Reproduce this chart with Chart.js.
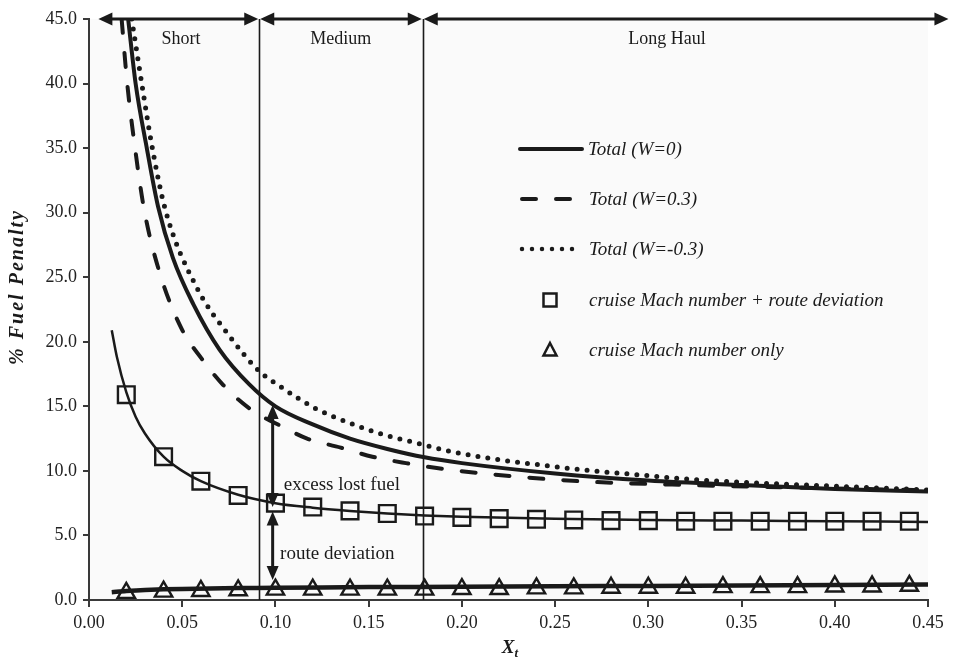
<!DOCTYPE html>
<html>
<head>
<meta charset="utf-8">
<script src="https://cdn.jsdelivr.net/npm/chart.js@4.4.0/dist/chart.umd.min.js"></script>
<style>
  html, body { margin: 0; padding: 0; background: #fff; }
  #wrap { width: 955px; height: 663px; }
</style>
</head>
<body>
<div id="wrap"><canvas id="chart" width="955" height="663"></canvas></div>
<script>
(function () {
  "use strict";

  /* ---------- data ---------- */
  const totalW0X   = [0.021, 0.025, 0.031, 0.037, 0.045, 0.056, 0.070, 0.086, 0.100, 0.120, 0.140, 0.160, 0.180, 0.200, 0.250, 0.300, 0.350, 0.400, 0.450];
  const totalW0Y   = [45.0, 40.0, 35.0, 30.5, 26.5, 22.9, 19.4, 16.7, 15.0, 13.6, 12.5, 11.7, 11.05, 10.6, 9.8, 9.25, 8.9, 8.6, 8.4];

  const totalW03X  = [0.0175, 0.0205, 0.0247, 0.0295, 0.038, 0.0497, 0.0604, 0.072, 0.0864, 0.104, 0.117, 0.135, 0.152, 0.170, 0.190, 0.226, 0.263, 0.322, 0.380, 0.450];
  const totalW03Y  = [45.0, 40.0, 35.0, 30.3, 25.3, 21.0, 18.7, 16.65, 14.8, 13.4, 12.5, 11.8, 11.1, 10.6, 10.15, 9.6, 9.2, 8.9, 8.7, 8.5];

  const totalWm3X  = [0.0229, 0.0283, 0.0336, 0.041, 0.0578, 0.0756, 0.0908, 0.104, 0.122, 0.140, 0.158, 0.176, 0.194, 0.215, 0.242, 0.269, 0.296, 0.322, 0.362, 0.406, 0.450];
  const totalWm3Y  = [45.0, 40.0, 35.3, 30.2, 24.2, 20.4, 17.8, 16.4, 14.8, 13.7, 12.8, 12.15, 11.5, 10.97, 10.46, 10.02, 9.68, 9.35, 9.04, 8.78, 8.52];

  const routeFitX  = [0.0122, 0.015, 0.020, 0.025, 0.030, 0.040, 0.050, 0.060, 0.080, 0.100, 0.120, 0.140, 0.160, 0.180, 0.200, 0.250, 0.300, 0.350, 0.400, 0.450];
  const routeFitY  = [20.9, 18.8, 16.1, 14.2, 12.9, 11.1, 10.0, 9.2, 8.15, 7.5, 7.15, 6.9, 6.7, 6.55, 6.45, 6.3, 6.2, 6.15, 6.1, 6.05];

  const markerX    = [0.02, 0.04, 0.06, 0.08, 0.10, 0.12, 0.14, 0.16, 0.18, 0.20, 0.22, 0.24, 0.26, 0.28, 0.30, 0.32, 0.34, 0.36, 0.38, 0.40, 0.42, 0.44];
  const routeDevY  = [15.9, 11.1, 9.2, 8.1, 7.5, 7.2, 6.9, 6.7, 6.5, 6.4, 6.3, 6.25, 6.2, 6.15, 6.15, 6.1, 6.1, 6.1, 6.1, 6.1, 6.1, 6.1];
  const machOnlyY  = [0.55, 0.65, 0.7, 0.75, 0.8, 0.8, 0.8, 0.8, 0.8, 0.85, 0.85, 0.9, 0.9, 0.95, 0.95, 0.95, 1.0, 1.0, 1.0, 1.05, 1.05, 1.1];

  const machFitX   = [0.0122, 0.020, 0.030, 0.050, 0.080, 0.100, 0.150, 0.200, 0.250, 0.300, 0.350, 0.400, 0.450];
  const machFitY   = [0.6, 0.7, 0.78, 0.86, 0.92, 0.95, 1.0, 1.03, 1.06, 1.09, 1.12, 1.16, 1.2];

  const yTicks = [0, 5, 10, 15, 20, 25, 30, 35, 40, 45];
  const xTicks = [0, 0.05, 0.10, 0.15, 0.20, 0.25, 0.30, 0.35, 0.40, 0.45];

  // haul range boundaries (arrows run a little past the axis on the right) and labels
  const rangeEdges  = [0.0045, 0.0913, 0.179, 0.4615];
  const rangeNames  = ["Short", "Medium", "Long Haul"];
  const rangeLabelX = [0.0493, 0.135, 0.310];

  const legendNames = ["Total (W=0)", "Total (W=0.3)", "Total (W=-0.3)",
                       "cruise Mach number + route deviation", "cruise Mach number only"];

  /* ---------- style ---------- */
  const INK     = "#1a1a1a";
  const AXIS    = "#3a3a3a";
  const PLOT_BG = "#fafafa";
  const SERIF   = "'Liberation Serif', 'Times New Roman', serif";

  const pts = (xs, ys) => xs.map((x, i) => ({ x: x, y: ys[i] }));

  function arrowHead(ctx, x, y, dx, dy, len, half) {
    ctx.beginPath();
    ctx.moveTo(x, y);
    ctx.lineTo(x - dx * len - dy * half, y - dy * len + dx * half);
    ctx.lineTo(x - dx * len + dy * half, y - dy * len - dx * half);
    ctx.closePath();
    ctx.fill();
  }

  function arrowLine(ctx, x0, y0, x1, y1, len, half, lw) {
    const L = Math.hypot(x1 - x0, y1 - y0);
    const dx = (x1 - x0) / L, dy = (y1 - y0) / L;
    ctx.lineWidth = lw;
    ctx.beginPath();
    ctx.moveTo(x0 + dx * len * 0.8, y0 + dy * len * 0.8);
    ctx.lineTo(x1 - dx * len * 0.8, y1 - dy * len * 0.8);
    ctx.stroke();
    arrowHead(ctx, x1, y1, dx, dy, len, half);
    arrowHead(ctx, x0, y0, -dx, -dy, len, half);
  }

  const decor = {
    id: "decor",
    beforeDraw(chart) {
      const { ctx, chartArea: a } = chart;
      ctx.save();
      ctx.fillStyle = PLOT_BG;
      ctx.fillRect(a.left, a.top, a.right - a.left, a.bottom - a.top);
      ctx.restore();
    },
    afterDatasetsDraw(chart) {
      const { ctx, chartArea: a, scales: { x, y } } = chart;
      ctx.save();
      ctx.strokeStyle = INK;
      ctx.fillStyle = INK;

      // boundary lines
      ctx.lineWidth = 1.6;
      [rangeEdges[1], rangeEdges[2]].forEach(v => {
        const px = Math.round(x.getPixelForValue(v)) + 0.5;
        ctx.beginPath();
        ctx.moveTo(px, a.top);
        ctx.lineTo(px, a.bottom);
        ctx.stroke();
      });

      // range arrows along the top
      const yTop = y.getPixelForValue(45);
      for (let i = 0; i < 3; i++) {
        const x0 = x.getPixelForValue(rangeEdges[i]);
        const x1 = x.getPixelForValue(rangeEdges[i + 1]);
        arrowLine(ctx, x0 + 1, yTop, x1 - 1, yTop, 14, 6.5, 3);
      }
      ctx.font = "18px " + SERIF;
      ctx.textAlign = "center";
      ctx.textBaseline = "middle";
      rangeNames.forEach((n, i) => ctx.fillText(n, x.getPixelForValue(rangeLabelX[i]), y.getPixelForValue(43.4)));

      // excess lost fuel / route deviation arrows
      const ax = x.getPixelForValue(0.0985);
      arrowLine(ctx, ax, y.getPixelForValue(15.1), ax, y.getPixelForValue(7.2), 14, 6, 3);
      arrowLine(ctx, ax, y.getPixelForValue(6.85), ax, y.getPixelForValue(1.55), 14, 6, 3);
      ctx.font = "19px " + SERIF;
      ctx.textAlign = "left";
      ctx.fillText("excess lost fuel", x.getPixelForValue(0.1045), y.getPixelForValue(8.9));
      ctx.fillText("route deviation", x.getPixelForValue(0.1025), y.getPixelForValue(3.6));

      // legend
      const lx0 = a.left + 431, lx1 = a.left + 493, tx = a.left + 500;
      const rows = [130, 180, 230, 281, 331].map(r => a.top + r);
      ctx.lineWidth = 4;
      ctx.lineCap = "round";
      ctx.beginPath(); ctx.moveTo(lx0, rows[0]); ctx.lineTo(lx1, rows[0]); ctx.stroke();
      ctx.setLineDash([14, 20]);
      ctx.beginPath(); ctx.moveTo(lx0 + 2, rows[1]); ctx.lineTo(lx1, rows[1]); ctx.stroke();
      ctx.setLineDash([0, 10]);
      ctx.lineWidth = 4.5;
      ctx.beginPath(); ctx.moveTo(lx0 + 2, rows[2]); ctx.lineTo(lx1, rows[2]); ctx.stroke();
      ctx.setLineDash([]);
      ctx.lineCap = "butt";
      ctx.lineWidth = 2.5;
      const mx = a.left + 461;
      ctx.strokeRect(mx - 6.5, rows[3] - 6.5, 13, 13);
      ctx.beginPath();
      ctx.moveTo(mx, rows[4] - 7);
      ctx.lineTo(mx + 6.5, rows[4] + 5.5);
      ctx.lineTo(mx - 6.5, rows[4] + 5.5);
      ctx.closePath();
      ctx.stroke();
      ctx.font = "italic 19px " + SERIF;
      legendNames.forEach((n, i) => ctx.fillText(n, i === 0 ? tx - 1 : tx, rows[i] + 1));

      // axis titles
      ctx.font = "bold italic 20px " + SERIF;
      ctx.save();
      ctx.translate(18, 287);
      ctx.rotate(-Math.PI / 2);
      ctx.textAlign = "center";
      ctx.letterSpacing = "2px";
      ctx.fillText("% Fuel Penalty", 0, 0);
      ctx.restore();
      const cx = (a.left + a.right) / 2;
      ctx.font = "bold italic 19px " + SERIF;
      ctx.textAlign = "right";
      ctx.fillText("X", cx + 6, 648);
      ctx.font = "bold italic 13px " + SERIF;
      ctx.textAlign = "left";
      ctx.fillText("t", cx + 6, 654);
      ctx.restore();
    }
  };

  const lineBase = {
    showLine: true,
    pointRadius: 0,
    fill: false,
    borderColor: INK,
    cubicInterpolationMode: "monotone",
  };

  new Chart(document.getElementById("chart"), {
    type: "scatter",
    data: {
      datasets: [
        { ...lineBase, label: "Total (W=0)",   data: pts(totalW0X, totalW0Y),   borderWidth: 4 },
        { ...lineBase, label: "Total (W=0.3)", data: pts(totalW03X, totalW03Y), borderWidth: 4,
          borderDash: [14, 20], borderCapStyle: "round" },
        { ...lineBase, label: "Total (W=-0.3)", data: pts(totalWm3X, totalWm3Y), borderWidth: 5,
          borderDash: [0, 10], borderCapStyle: "round" },
        { ...lineBase, label: "route fit", data: pts(routeFitX, routeFitY), borderWidth: 2.5 },
        { ...lineBase, label: "mach fit",  data: pts(machFitX, machFitY),   borderWidth: 4.5, cubicInterpolationMode: "default", tension: 0.3 },
        { label: "cruise Mach number + route deviation", data: pts(markerX, routeDevY), showLine: false,
          pointStyle: "rect", pointRadius: 11.8, pointBorderWidth: 2.4,
          pointBorderColor: INK, pointBackgroundColor: "rgba(0,0,0,0)" },
        { label: "cruise Mach number only", data: pts(markerX, machOnlyY), showLine: false,
          pointStyle: "triangle", pointRadius: 10, pointBorderWidth: 2.4,
          pointBorderColor: INK, pointBackgroundColor: "rgba(0,0,0,0)" },
      ],
    },
    options: {
      responsive: false,
      animation: false,
      layout: { padding: { left: 0, right: 27, top: 19, bottom: 0 } },
      plugins: { legend: { display: false }, tooltip: { enabled: false } },
      scales: {
        x: {
          type: "linear", min: 0, max: 0.45,
          afterBuildTicks: s => { s.ticks = xTicks.map(v => ({ value: v })); },
          afterFit: s => { s.height = 63; },
          grid: { drawOnChartArea: false, drawTicks: true, tickLength: 7, color: AXIS, lineWidth: 2 },
          border: { display: true, color: AXIS, width: 2 },
          ticks: { color: "#222", padding: 5, maxRotation: 0, font: { family: SERIF, size: 18 },
                   callback: v => Number(v).toFixed(2) },
        },
        y: {
          min: 0, max: 45,
          afterBuildTicks: s => { s.ticks = yTicks.map(v => ({ value: v })); },
          afterFit: s => { s.width = 89; },
          grid: { drawOnChartArea: false, drawTicks: true, tickLength: 6, color: AXIS, lineWidth: 2 },
          border: { display: true, color: AXIS, width: 2 },
          ticks: { color: "#222", padding: 6, font: { family: SERIF, size: 18 },
                   callback: v => Number(v).toFixed(1) },
        },
      },
    },
    plugins: [decor],
  });
})();
</script>
</body>
</html>
